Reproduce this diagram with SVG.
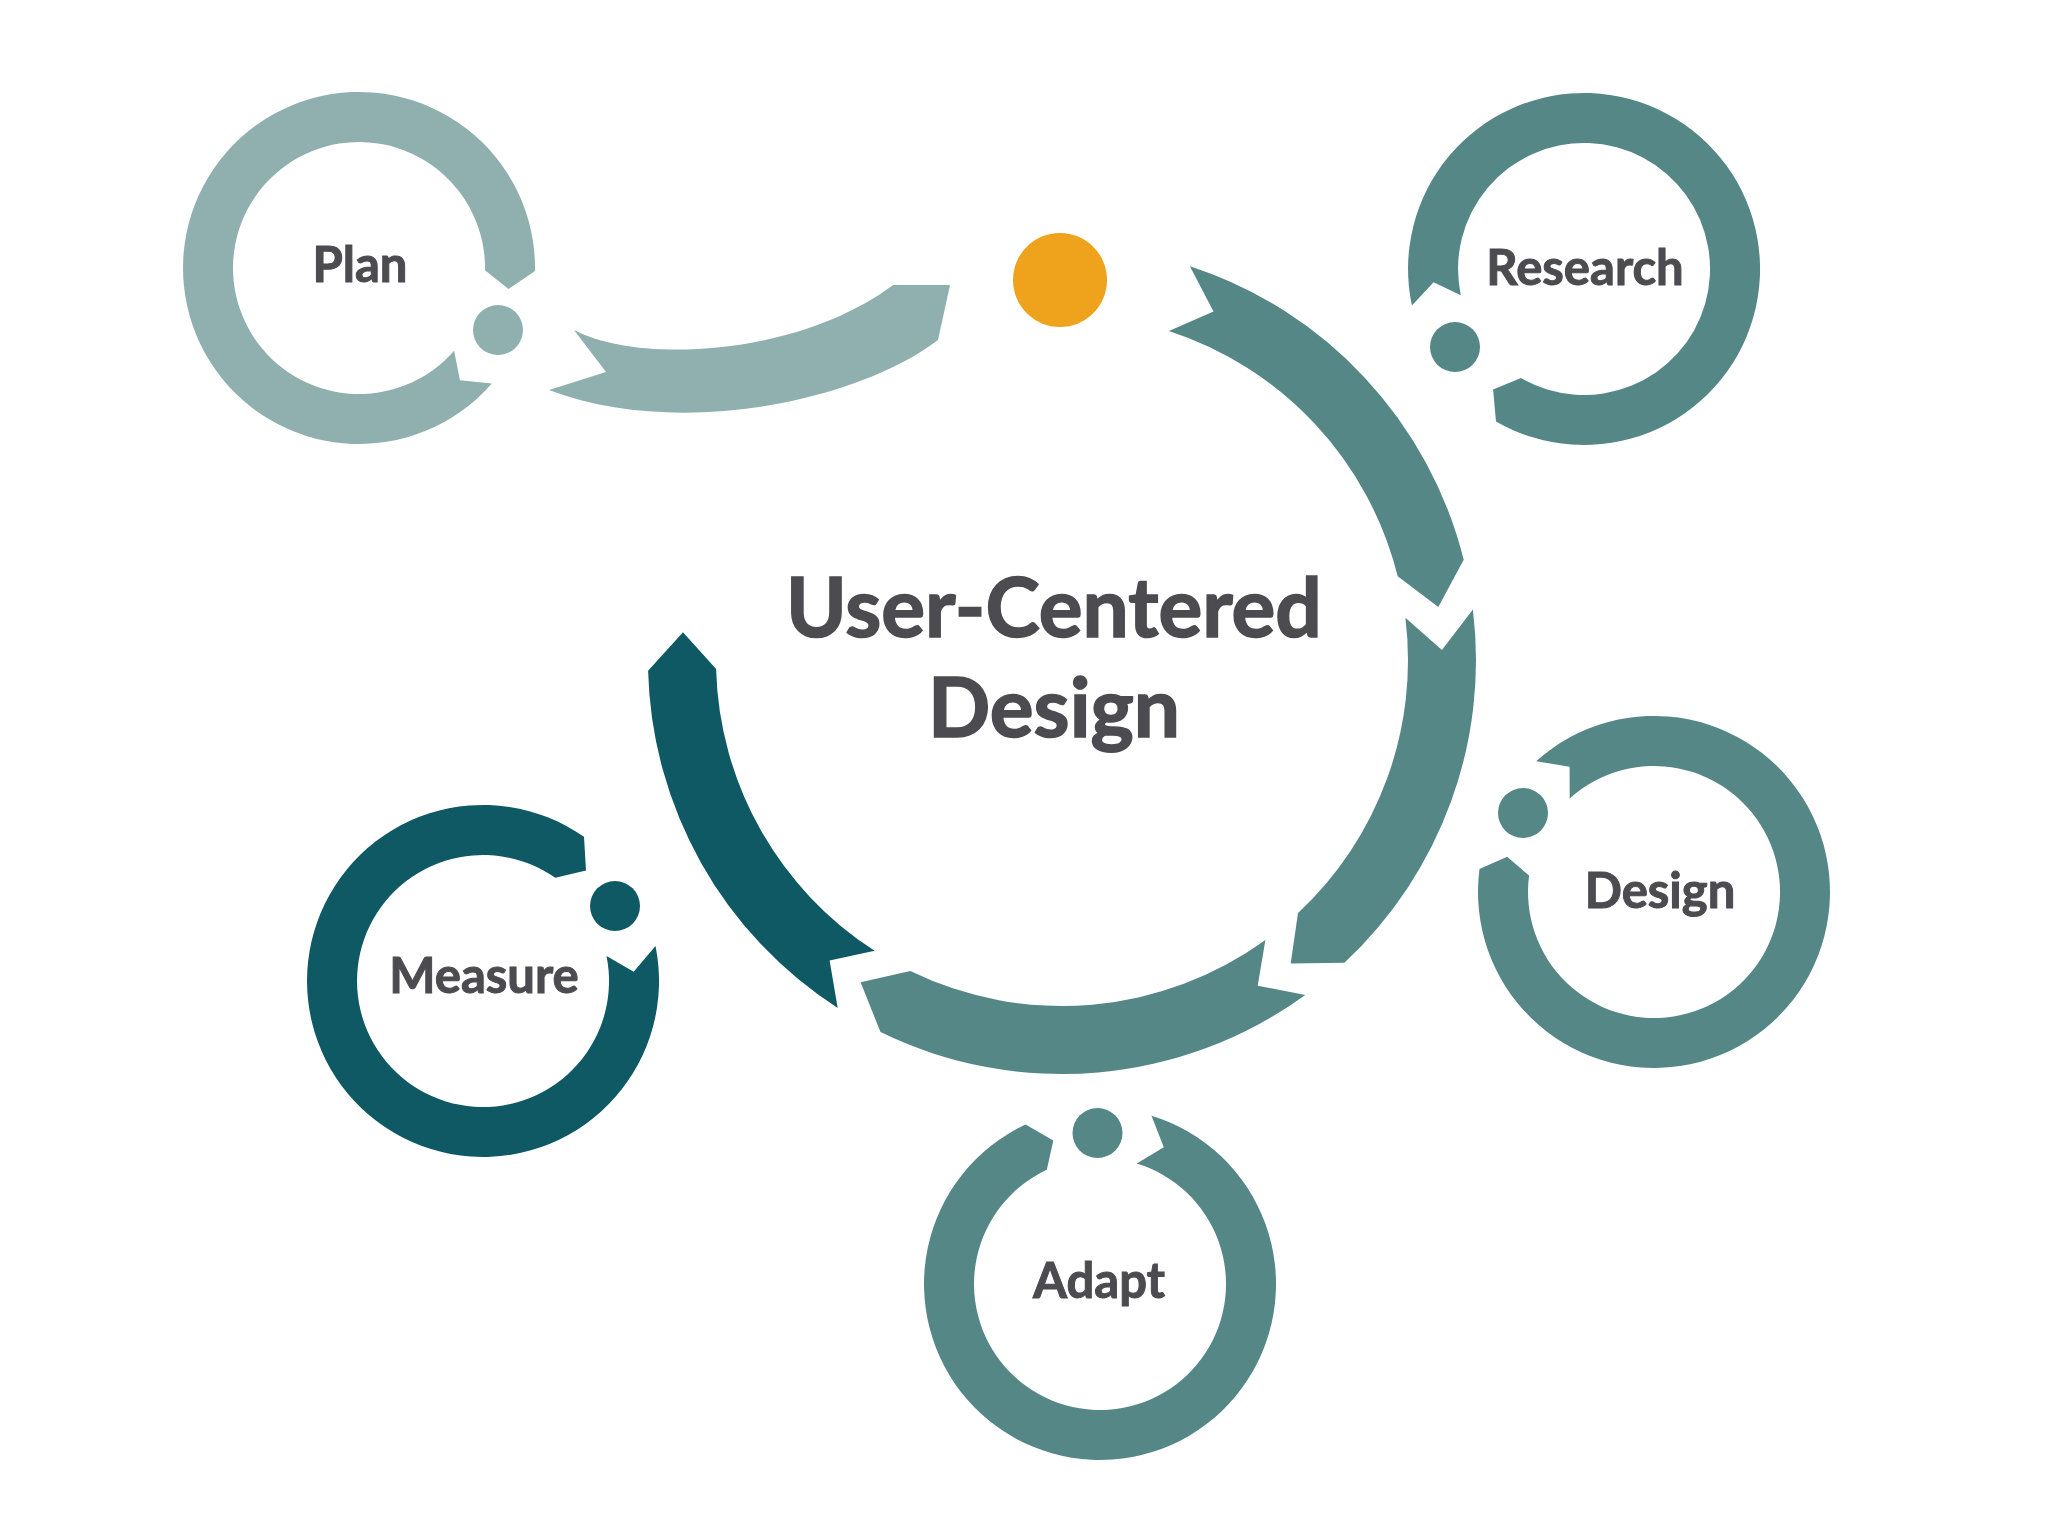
<svg xmlns="http://www.w3.org/2000/svg" width="2048" height="1536" viewBox="0 0 2048 1536">
  <style>
    .light { fill: #8fb0af; }
    .teal { fill: #548786; }
    .dark { fill: #0e5963; }
    .orange { fill: #efa21b; }
    .label { font-family: Lato, "Open Sans", "Liberation Sans", sans-serif; font-weight: 700; font-size: 49px; fill: #4b4b50; stroke: #4b4b50; stroke-width: 1; text-anchor: middle; }
    .title { font-family: Lato, "Open Sans", "Liberation Sans", sans-serif; font-weight: 700; font-size: 82px; fill: #4b4b50; stroke: #4b4b50; stroke-width: 1.6; text-anchor: middle; }
  </style>
  <rect x="0" y="0" width="2048" height="1536" fill="#ffffff"/>

  <g id="connectors">
    <path id="conn-plan" class="light" d="M 574 330 C 640 365 800 355 893 285 L 950 285 L 938 340 C 860 400 680 440 549 390 L 606 372 Z"/>
    <path id="conn-research" class="teal" d="M 1189.9 266.3 A 414 414 0 0 1 1463.7 559.8 L 1438.3 607.1 L 1397.7 576.3 A 346 346 0 0 0 1168.9 330.9 L 1213.5 311.5 Z"/>
    <path id="conn-design" class="teal" d="M 1472.9 609.6 A 414 414 0 0 1 1344.4 962.8 L 1290.7 963.5 L 1298.0 913.1 A 346 346 0 0 0 1405.4 617.8 L 1441.9 650.1 Z"/>
    <path id="conn-adapt" class="teal" d="M 1305.3 994.9 A 414 414 0 0 1 880.5 1032.1 L 860.6 982.3 L 910.3 971.0 A 346 346 0 0 0 1265.4 939.9 L 1257.7 985.7 Z"/>
    <path id="conn-measure" class="dark" d="M 837.7 1008.0 A 414 414 0 0 1 648.1 670.8 L 683.0 632.2 L 716.1 669.1 A 346 346 0 0 0 874.6 950.8 L 829.6 960.6 Z"/>
  </g>

  <g id="start">
    <circle class="orange" cx="1060" cy="280" r="47"/>
  </g>

  <g id="node-center">
    <text class="title" x="1054" y="637">User-Centered</text>
    <text class="title" x="1054" y="737">Design</text>
  </g>

  <g id="node-plan">
    <path class="light" d="M 491.8 383.5 A 176 176 0 1 1 535.0 271.1 L 508.5 289.0 L 485.0 270.2 A 126 126 0 1 0 454.1 350.7 L 460.0 380.2 Z"/>
    <circle class="light" cx="498" cy="330" r="25"/>
    <text class="label" x="360" y="282">Plan</text>
  </g>

  <g id="node-research">
    <path class="teal" d="M 1411.9 305.6 A 176 176 0 1 1 1496.0 421.4 L 1493.1 389.6 L 1521.0 378.1 A 126 126 0 1 0 1460.8 295.2 L 1433.6 282.2 Z"/>
    <circle class="teal" cx="1455" cy="347" r="25"/>
    <text class="label" x="1585" y="285">Research</text>
  </g>

  <g id="node-design">
    <path class="teal" d="M 1536.2 761.2 A 176 176 0 1 1 1479.5 869.0 L 1507.2 856.8 L 1529.1 875.6 A 126 126 0 1 0 1569.7 798.4 L 1569.6 766.8 Z"/>
    <circle class="teal" cx="1523" cy="813" r="25"/>
    <text class="label" x="1660" y="908">Design</text>
  </g>

  <g id="node-adapt">
    <path class="teal" d="M 1151.5 1115.7 A 176 176 0 1 1 1025.6 1124.5 L 1053.3 1140.4 L 1046.8 1169.8 A 126 126 0 1 0 1136.8 1163.5 L 1163.8 1147.2 Z"/>
    <circle class="teal" cx="1097.5" cy="1133" r="25"/>
    <text class="label" x="1099" y="1298">Adapt</text>
  </g>

  <g id="node-measure">
    <path class="dark" d="M 655.5 945.9 A 176 176 0 1 1 584.0 836.8 L 586.0 870.6 L 555.3 877.8 A 126 126 0 1 0 606.5 955.9 L 633.7 971.8 Z"/>
    <circle class="dark" cx="615" cy="906" r="25"/>
    <text class="label" x="484" y="993">Measure</text>
  </g>
</svg>
